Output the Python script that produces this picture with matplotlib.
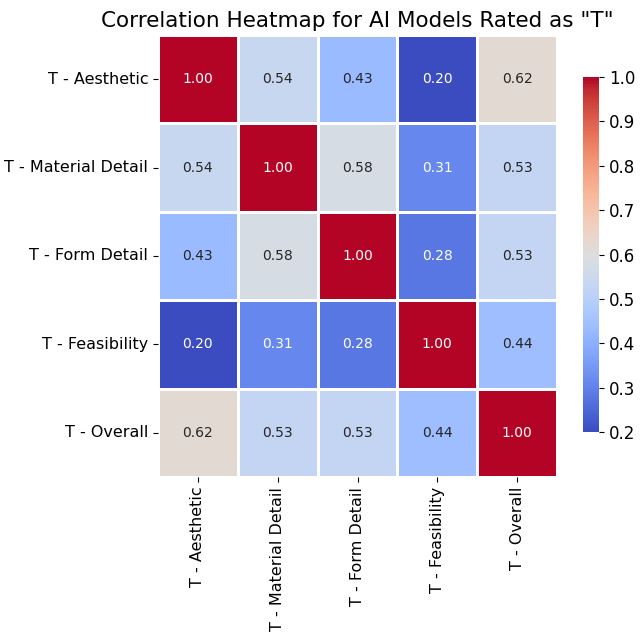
import numpy as np
import pandas as pd
import matplotlib
matplotlib.use("Agg")
import matplotlib.pyplot as plt
import seaborn as sns

labels = ["T - Aesthetic", "T - Material Detail", "T - Form Detail",
          "T - Feasibility", "T - Overall"]

row_aesthetic = [1.00, 0.54, 0.43, 0.20, 0.62]
row_material = [0.54, 1.00, 0.58, 0.31, 0.53]
row_form = [0.43, 0.58, 1.00, 0.28, 0.53]
row_feasibility = [0.20, 0.31, 0.28, 1.00, 0.44]
row_overall = [0.62, 0.53, 0.53, 0.44, 1.00]

corr = pd.DataFrame([row_aesthetic, row_material, row_form, row_feasibility, row_overall],
                    index=labels, columns=labels)

fig = plt.figure(figsize=(6.4, 6.35), dpi=100)
W, H = 640, 635
ax = fig.add_axes([158 / W, 1 - 477 / H, 399 / W, 442 / H])
cax = fig.add_axes([583 / W, 1 - 432 / H, 16 / W, 355 / H])

sns.heatmap(corr, annot=True, fmt=".2f", cmap="coolwarm", vmin=0.2, vmax=1.0,
            linewidths=0.8, linecolor="white", ax=ax, cbar_ax=cax,
            annot_kws={"size": 10})

ax.set_title('Correlation Heatmap for AI Models Rated as "T"', fontsize=15.5, pad=6)
ax.tick_params(axis="both", labelsize=11.5)
plt.setp(ax.get_xticklabels(), rotation=90)
plt.setp(ax.get_yticklabels(), rotation=0)
cax.tick_params(labelsize=12)
cax.set_yticks([0.2, 0.3, 0.4, 0.5, 0.6, 0.7, 0.8, 0.9, 1.0])

fig.savefig("out.png", dpi=100)
